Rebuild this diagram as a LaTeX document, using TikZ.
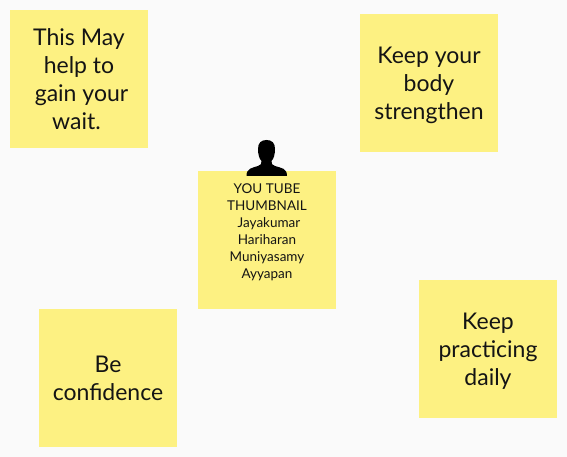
\documentclass[tikz,border=0pt]{standalone}
\usepackage{fontspec}
\setmainfont{Lato}
\usetikzlibrary{positioning}
\definecolor{notefill}{HTML}{FDF182}
\definecolor{pagefill}{HTML}{FAFAFA}
\definecolor{inktext}{HTML}{141414}
\newcommand{\droptext}{\rule{0pt}{21pt}}
\tikzset{
	note/.style={fill=notefill, minimum size=138pt, inner sep=0pt, outer sep=0pt, text=inktext, align=center, font=\fontsize{23}{28}\selectfont},
	smalltext/.style={text=inktext, align=center, inner sep=0pt, font=\fontsize{13.5}{17}\selectfont}
}
\begin{document}
\begin{tikzpicture}[x=1pt, y=-1pt]
	\fill[pagefill] (0, 0) rectangle (567, 457);
	\useasboundingbox (0, 0) rectangle (567, 457);
	\node[note] (A)at(79, 79) {This May\\help to\\\hspace*{5pt}gain your\\wait.\hspace*{5pt}};
	\node[note] (B)at(429, 83) {\droptext Keep your\\body\\strengthen};
	\node[note] (C)at(267, 240) {};
	\node[note] (D)at(108, 378) {Be\\confidence};
	\node[note] (E)at(488, 349) {\droptext Keep\\practicing\\daily};
	\node[smalltext, below=13pt of C.north] (Ctext) {YOU TUBE\\THUMBNAIL\\\hspace*{4pt}Jayakumar\\Hariharan\\Muniyasamy\\Ayyapan};
	% person on top of the middle note
	\fill[black] (258, 149) .. controls (258, 143) and (261, 140) .. (266.5, 140)
		.. controls (272, 140) and (275, 143) .. (275, 149)
		.. controls (275, 155) and (273.5, 159) .. (271.5, 161)
		.. controls (271.5, 164) and (272, 165) .. (275, 166)
		.. controls (281, 168) and (287, 168) .. (287, 176)
		-- (246.5, 176)
		.. controls (246.5, 168) and (252, 168) .. (258, 166)
		.. controls (261, 165) and (261.5, 164) .. (261.5, 161)
		.. controls (259.5, 159) and (258, 155) .. (258, 149) -- cycle;
\end{tikzpicture}
\end{document}
